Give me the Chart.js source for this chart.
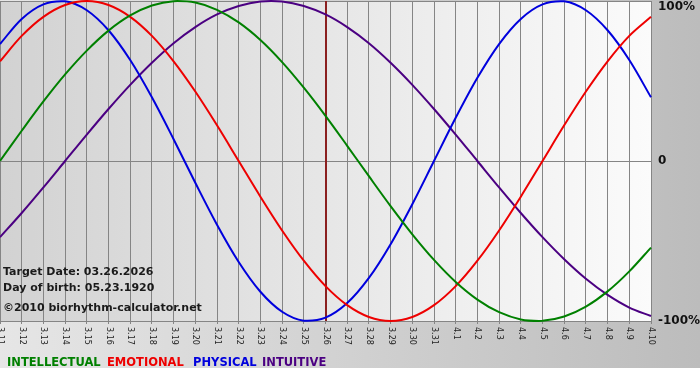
<!DOCTYPE html>
<html lang="en">
<head>
  <meta charset="UTF-8">
  <title>Biorhythm</title>
  <script src="https://cdn.jsdelivr.net/npm/chart.js"></script>
  <style>
    body {
      margin: 0;
      padding: 0;
      background: #fff;
    }
    .chart-container {
      width: 700px;
      height: 380px;
      position: relative;
    }
  </style>
</head>
<body>
  <div class="chart-container">
    <canvas id="myChart"></canvas>
  </div>

  <script>
    const days = ['3.11', '3.12', '3.13', '3.14', '3.15', '3.16', '3.17', '3.18', '3.19', '3.20',
      '3.21', '3.22', '3.23', '3.24', '3.25', '3.26', '3.27', '3.28', '3.29', '3.30', '3.31',
      '4.1', '4.2', '4.3', '4.4', '4.5', '4.6', '4.7', '4.8', '4.9', '4.10'];

    const intellectual = [0, 0.189, 0.372, 0.541, 0.690, 0.815, 0.910, 0.972, 0.999, 0.990, 0.945,
      0.866, 0.756, 0.618, 0.458, 0.282, 0.095, -0.095, -0.282, -0.458, -0.618,
      -0.756, -0.866, -0.945, -0.990, -0.999, -0.972, -0.910, -0.815, -0.690, -0.541];
    const emotional = [0.623, 0.782, 0.901, 0.975, 1.000, 0.975, 0.901, 0.782, 0.623, 0.434, 0.223,
      0, -0.223, -0.434, -0.623, -0.782, -0.901, -0.975, -1.000, -0.975, -0.901,
      -0.782, -0.623, -0.434, -0.223, 0, 0.223, 0.434, 0.623, 0.782, 0.901];
    const physical = [0.731, 0.888, 0.979, 0.998, 0.942, 0.817, 0.631, 0.398, 0.136, -0.136, -0.398,
      -0.631, -0.817, -0.942, -0.998, -0.979, -0.888, -0.731, -0.520, -0.270, 0,
      0.270, 0.520, 0.731, 0.888, 0.979, 0.998, 0.942, 0.817, 0.631, 0.398];
    const intuitive = [-0.476, -0.325, -0.165, 0, 0.165, 0.325, 0.476, 0.614, 0.736, 0.837, 0.916,
      0.969, 0.997, 0.997, 0.969, 0.916, 0.837, 0.736, 0.614, 0.476, 0.325,
      0.165, 0, -0.165, -0.325, -0.476, -0.614, -0.736, -0.837, -0.916, -0.969];

    const yTicks = [1, 0, -1];
    const yTickLabels = ['100%', '0', '-100%'];
    const targetDay = '3.26';
    const infoLines = ['Target Date: 03.26.2026', 'Day of birth: 05.23.1920', '\u00a92010 biorhythm-calculator.net'];
    const legendNames = ['INTELLECTUAL', 'EMOTIONAL', 'PHYSICAL', 'INTUITIVE'];
    const legendX = [7, 107, 193, 262];
    const colors = ['#008000', '#ee0000', '#0000dd', '#4b0082'];

    const bgPlugin = {
      id: 'bg',
      beforeDraw(chart) {
        const ctx = chart.ctx;
        const a = chart.chartArea;
        ctx.save();
        let g = ctx.createLinearGradient(0, 0, chart.width, 0);
        g.addColorStop(0, '#e6e6e6');
        g.addColorStop(1, '#bcbcbc');
        ctx.fillStyle = g;
        ctx.fillRect(0, 0, chart.width, 368);
        ctx.fillStyle = '#fff';
        ctx.fillRect(0, 368, chart.width, chart.height - 368);
        g = ctx.createLinearGradient(a.left, 0, a.right, 0);
        g.addColorStop(0, '#d2d2d2');
        g.addColorStop(1, '#fbfbfb');
        ctx.fillStyle = g;
        ctx.fillRect(a.left, a.top, a.right - a.left, a.bottom - a.top);
        ctx.restore();
      },
      beforeDatasetsDraw(chart) {
        const ctx = chart.ctx;
        const a = chart.chartArea;
        const x = Math.round(chart.scales.x.getPixelForValue(days.indexOf(targetDay)));
        ctx.save();
        ctx.strokeStyle = '#8b2020';
        ctx.lineWidth = 2;
        ctx.beginPath();
        ctx.moveTo(x, a.top);
        ctx.lineTo(x, a.bottom);
        ctx.stroke();
        ctx.restore();
      },
      afterDraw(chart) {
        const ctx = chart.ctx;
        const a = chart.chartArea;
        const xs = chart.scales.x;
        const ys = chart.scales.y;
        ctx.save();
        // rotated day labels
        ctx.fillStyle = '#222';
        ctx.font = '8px "DejaVu Sans"';
        ctx.textAlign = 'left';
        ctx.textBaseline = 'middle';
        days.forEach((d, i) => {
          ctx.save();
          ctx.translate(Math.round(xs.getPixelForValue(i)) + 0.5, a.bottom + 6);
          ctx.rotate(Math.PI / 2);
          ctx.fillText(d, 0, 0);
          ctx.restore();
        });
        // right axis labels
        ctx.fillStyle = '#111';
        ctx.font = 'bold 12px "DejaVu Sans"';
        yTicks.forEach((v, i) => {
          let y = ys.getPixelForValue(v);
          y = Math.min(Math.max(y, 7), chart.height);
          ctx.fillText(yTickLabels[i], a.right + 7, y);
        });
        // info text
        ctx.fillStyle = '#1a1a1a';
        ctx.textBaseline = 'alphabetic';
        ctx.font = 'bold 11px "DejaVu Sans"';
        ctx.fillText(infoLines[0], 3, 275);
        ctx.fillText(infoLines[1], 3, 291);
        ctx.fillText(infoLines[2], 3, 311);
        // legend
        ctx.font = 'bold 11.5px "DejaVu Sans"';
        legendNames.forEach((n, i) => {
          ctx.fillStyle = colors[i];
          ctx.fillText(n, legendX[i], 366);
        });
        ctx.restore();
      }
    };

    const ctx = document.getElementById('myChart').getContext('2d');
    const myChart = new Chart(ctx, {
      type: 'line',
      data: {
        labels: days,
        datasets: [intellectual, emotional, physical, intuitive].map((d, i) => ({
          label: legendNames[i],
          data: d,
          borderColor: colors[i],
          borderWidth: 2,
          pointRadius: 0,
          tension: 0.33,
          fill: false
        }))
      },
      options: {
        responsive: true,
        maintainAspectRatio: false,
        animation: false,
        clip: false,
        layout: {
          padding: { top: 1, left: 0, right: 0, bottom: 0 }
        },
        scales: {
          x: {
            offset: false,
            grid: { color: '#858585', lineWidth: 1, tickLength: 3, drawTicks: true },
            border: { color: '#858585' },
            ticks: { display: false },
            afterFit(s) { s.height = 59; }
          },
          y: {
            position: 'right',
            min: -1,
            max: 1,
            grid: { color: '#858585', drawTicks: false },
            border: { display: false },
            ticks: { display: false, stepSize: 1 },
            afterFit(s) { s.width = 49; }
          }
        },
        plugins: {
          legend: { display: false },
          tooltip: { enabled: false }
        }
      },
      plugins: [bgPlugin]
    });
  </script>
</body>
</html>
